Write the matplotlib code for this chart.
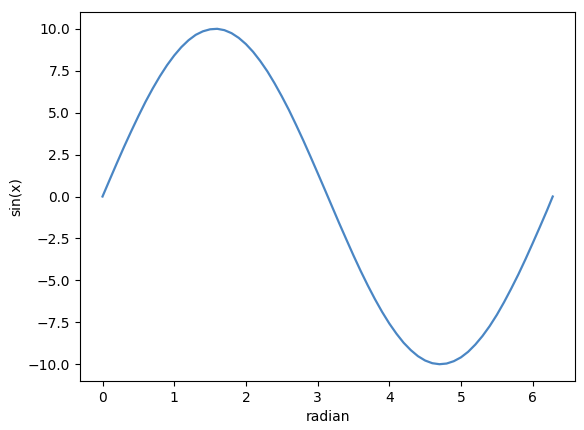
import matplotlib
matplotlib.use("Agg")
import matplotlib.pyplot as plt

# values
radian = [0.0, 0.1, 0.2, 0.3, 0.4, 0.5, 0.6, 0.7, 0.8, 0.9,
          1.0, 1.1, 1.2, 1.3, 1.4, 1.5, 1.6, 1.7, 1.8, 1.9,
          2.0, 2.1, 2.2, 2.3, 2.4, 2.5, 2.6, 2.7, 2.8, 2.9,
          3.0, 3.1, 3.2, 3.3, 3.4, 3.5, 3.6, 3.7, 3.8, 3.9,
          4.0, 4.1, 4.2, 4.3, 4.4, 4.5, 4.6, 4.7, 4.8, 4.9,
          5.0, 5.1, 5.2, 5.3, 5.4, 5.5, 5.6, 5.7, 5.8, 5.9,
          6.0, 6.1, 6.2, 6.28]
values = [0.00, 1.00, 1.99, 2.96, 3.89, 4.79, 5.65, 6.44, 7.17, 7.83,
          8.41, 8.91, 9.32, 9.64, 9.85, 9.97, 10.00, 9.92, 9.74, 9.46,
          9.09, 8.63, 8.08, 7.46, 6.75, 5.98, 5.16, 4.27, 3.35, 2.39,
          1.41, 0.42, -0.58, -1.58, -2.55, -3.51, -4.43, -5.30, -6.12, -6.88,
          -7.57, -8.18, -8.72, -9.16, -9.52, -9.78, -9.94, -10.00, -9.96, -9.82,
          -9.59, -9.26, -8.83, -8.32, -7.73, -7.06, -6.31, -5.50, -4.65, -3.74,
          -2.79, -1.82, -0.83, 0.00]

fig = plt.figure(figsize=(5.84, 4.30), dpi=100)
ax = fig.add_axes([0.137, 0.114, 0.848, 0.858])
ax.plot(radian, values, color="#4a86c4", linewidth=1.6)
ax.set_xlabel("radian")
ax.set_ylabel("sin(x)")
fig.savefig("out.png", dpi=100)
